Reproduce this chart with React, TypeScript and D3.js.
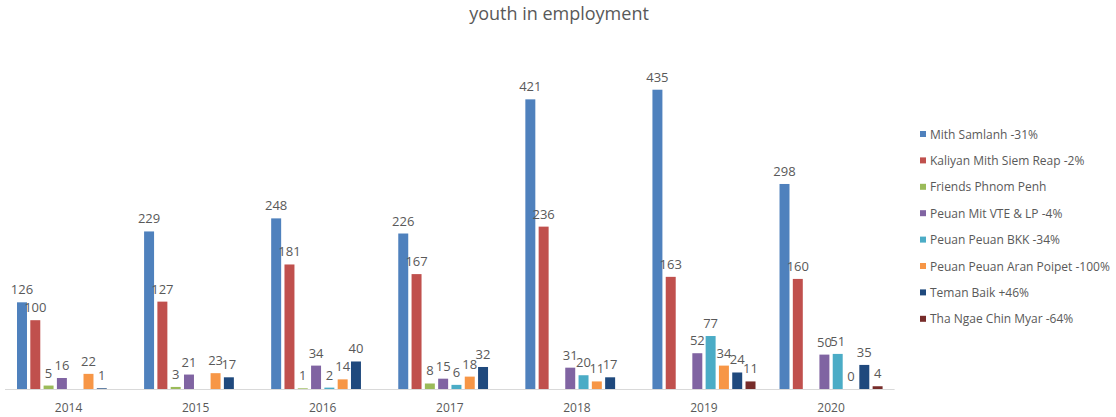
import React from "react";
import * as d3 from "d3";

const years = ["2014", "2015", "2016", "2017", "2018", "2019", "2020"];
const seriesNames = [
  "Mith Samlanh -31%",
  "Kaliyan Mith Siem Reap -2%",
  "Friends Phnom Penh",
  "Peuan Mit VTE & LP -4%",
  "Peuan Peuan BKK -34%",
  "Peuan Peuan Aran Poipet -100%",
  "Teman Baik +46%",
  "Tha Ngae Chin Myar -64%",
];
const mithSamlanh = [126, 229, 248, 226, 421, 435, 298];
const kaliyan = [100, 127, 181, 167, 236, 163, 160];
const friends = [5, 3, 1, 8, null, null, null];
const peuanMit = [16, 21, 34, 15, 31, 52, 50];
const peuanBKK = [null, null, 2, 6, 20, 77, 51];
const aranPoipet = [22, 23, 14, 18, 11, 34, 0];
const temanBaik = [1, 17, 40, 32, 17, 24, 35];
const thaNgae = [null, null, null, null, null, 11, 4];

const seriesValues: (number | null)[][] = [
  mithSamlanh,
  kaliyan,
  friends,
  peuanMit,
  peuanBKK,
  aranPoipet,
  temanBaik,
  thaNgae,
];
const colors = [
  "#4F81BD",
  "#C0504D",
  "#9BBB59",
  "#8064A2",
  "#4BACC6",
  "#F79646",
  "#1F497D",
  "#772C2A",
];

const W = 1116;
const H = 417;
const FONT = "'Open Sans', sans-serif";
const TEXT = "#595959";

export default function App() {
  const x0 = d3.scaleBand<string>().domain(years).range([5, 894.6]).padding(0);
  const groupW = 106.4;
  const x1 = d3
    .scaleBand<string>()
    .domain(seriesNames)
    .range([0, groupW])
    .paddingInner(0.25)
    .paddingOuter(0.125);
  const y = d3.scaleLinear().domain([0, 500]).range([389, 45]);

  return (
    <svg
      width={W}
      height={H}
      style={{ position: "absolute", left: 0, top: 0, background: "#fff" }}
      fontFamily={FONT}
    >
      <rect x={0} y={0} width={W} height={H} fill="#fff" />
      <text x={559} y={20} textAnchor="middle" fontSize={18} fill={TEXT}>
        youth in employment
      </text>
      {years.map((yr, i) => {
        const gx = (x0(yr) as number) + x0.bandwidth() / 2 - groupW / 2;
        return (
          <g key={yr}>
            {seriesNames.map((s, j) => {
              const v = seriesValues[j][i];
              if (v === null || v === undefined) return null;
              const bx = gx + (x1(s) as number);
              const top = y(v);
              return (
                <g key={s}>
                  <rect
                    x={bx}
                    y={top}
                    width={x1.bandwidth()}
                    height={y(0) - top}
                    fill={colors[j]}
                  />
                  <text
                    x={bx + x1.bandwidth() / 2}
                    y={top - 8}
                    textAnchor="middle"
                    fontSize={13}
                    fill={TEXT}
                  >
                    {v}
                  </text>
                </g>
              );
            })}
            <text
              x={(x0(yr) as number) + x0.bandwidth() / 2}
              y={412}
              textAnchor="middle"
              fontSize={12}
              fill={TEXT}
            >
              {yr}
            </text>
          </g>
        );
      })}
      <line x1={5} x2={894.6} y1={389.5} y2={389.5} stroke="#D9D9D9" strokeWidth={1} />
      {seriesNames.map((s, j) => {
        const ly = 134 + j * 26.4;
        return (
          <g key={s}>
            <rect x={920} y={ly - 3} width={6} height={6} fill={colors[j]} />
            <text x={930} y={ly} dominantBaseline="central" fontSize={12} fill={TEXT}>
              {s}
            </text>
          </g>
        );
      })}
    </svg>
  );
}
